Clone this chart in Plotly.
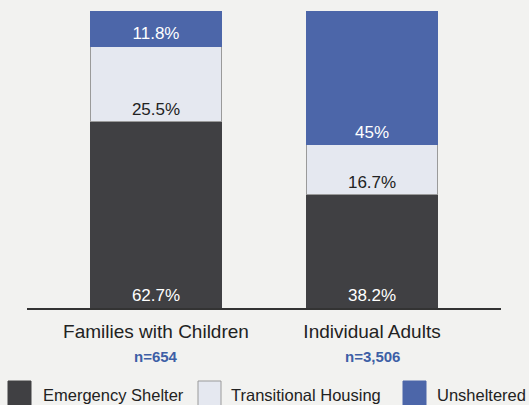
import plotly.graph_objects as go

categories = ["Families with Children", "Individual Adults"]
sample_sizes = ["n=654", "n=3,506"]
series_names = ["Emergency Shelter", "Transitional Housing", "Unsheltered"]
emergency_shelter = [62.7, 38.2]
transitional_housing = [25.5, 16.7]
unsheltered = [11.8, 45.0]
value_labels = {
    "Emergency Shelter": ["62.7%", "38.2%"],
    "Transitional Housing": ["25.5%", "16.7%"],
    "Unsheltered": ["11.8%", "45%"],
}

W, H = 529, 405
L, R, T, B = 27, 28, 11, 97
BG = "#f2f2f0"
colors = ["#404043", "#e5e8f0", "#4c66a9"]
text_colors = ["white", "#222222", "white"]
line_colors = ["#404043", "#9a9a9a", "#4c66a9"]

fig = go.Figure()
for name, vals, c, tc, lc in zip(series_names,
                                 [emergency_shelter, transitional_housing, unsheltered],
                                 colors, text_colors, line_colors):
    fig.add_trace(go.Bar(
        x=[0, 1], y=vals, name=name, width=0.61,
        marker=dict(color=c, line=dict(color=lc, width=1)),
        text=value_labels[name], textposition="inside", insidetextanchor="start",
        textfont=dict(family="Liberation Sans, Arial", size=17, color=tc),
        textangle=0, showlegend=False, hoverinfo="skip",
    ))

def px_x(px):
    return (px - L) / (W - L - R)

def px_y(py):
    return (H - B - py) / (H - T - B)

annotations = []
shapes = []
for i, n in enumerate(sample_sizes):
    annotations.append(dict(
        x=i, xref="x", y=px_y(356), yref="paper", text="<b>" + n + "</b>", showarrow=False,
        font=dict(family="Liberation Sans Narrow, Liberation Sans, Arial", size=15, color="#3d5fa6"),
        xanchor="center", yanchor="middle"))

legend_sq_x = [8, 198, 403]
legend_txt_x = [41, 229, 435]
for name, c, lc, sx, tx in zip(series_names, colors, line_colors, legend_sq_x, legend_txt_x):
    shapes.append(dict(type="rect", xref="paper", yref="paper",
                       x0=px_x(sx), x1=px_x(sx + 23), y0=px_y(407), y1=px_y(381),
                       fillcolor=c, line=dict(color=lc, width=1)))
    annotations.append(dict(
        x=px_x(tx), xref="paper", y=px_y(395), yref="paper", text=name, showarrow=False,
        font=dict(family="Liberation Sans, Arial", size=16.5, color="#222222"),
        xanchor="left", yanchor="middle"))

fig.update_layout(
    width=W, height=H, barmode="stack",
    margin=dict(l=L, r=R, t=T, b=B, pad=0),
    paper_bgcolor=BG, plot_bgcolor=BG,
    annotations=annotations, shapes=shapes,
    xaxis=dict(range=[-0.597, 1.597], tickvals=[0, 1], ticktext=categories,
               showline=True, linecolor="#333333", linewidth=1.5,
               showgrid=False, zeroline=False, ticks="outside", ticklen=5,
               tickcolor="rgba(0,0,0,0)",
               tickfont=dict(family="Liberation Sans, Arial", size=19, color="#222222")),
    yaxis=dict(range=[0, 100], visible=False, showgrid=False, zeroline=False),
)

fig.write_html("out.html", config={"displayModeBar": False},
               post_script="document.body.style.margin='0';document.body.style.padding='0';"
                           "document.body.style.overflow='hidden';")
